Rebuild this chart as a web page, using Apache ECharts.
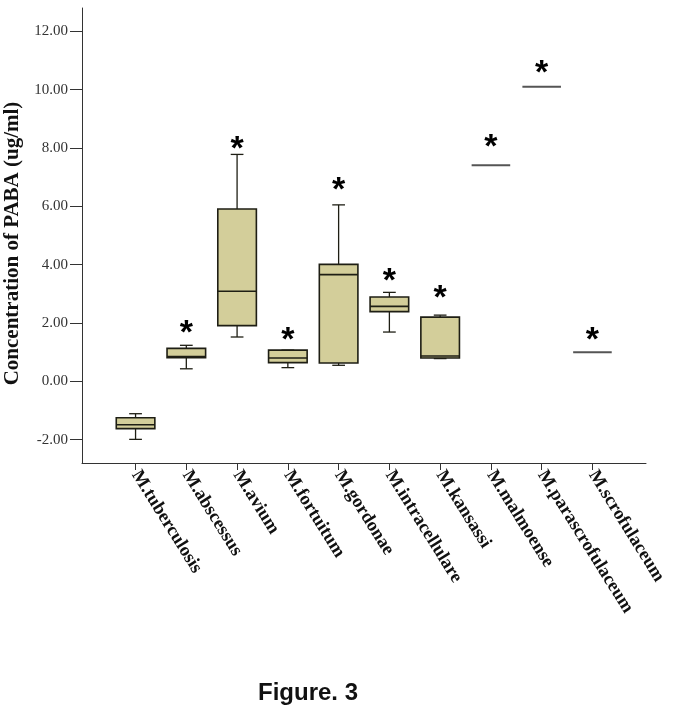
<!DOCTYPE html>
<html>
<head>
<meta charset="utf-8">
<script src="https://cdn.jsdelivr.net/npm/echarts@6/dist/echarts.min.js"></script>
<style>html,body{margin:0;padding:0;background:#fff}#c{width:675px;height:710px}</style>
</head>
<body>
<div id="c"></div>
<script>
const categories = ['M.tuberculosis','M.abscessus','M.avium','M.fortuitum','M.gordonae','M.intracellulare','M.kansassi','M.malmoense','M.parascrofulaceum','M.scrofulaceum'];
const whiskerLow  = [-1.99, 0.43, 1.52, 0.47, 0.55, 1.69, 0.78, 7.41, 10.10, 1.00];
const q1          = [-1.62, 0.81, 1.91, 0.64, 0.63, 2.39, 0.80, 7.41, 10.10, 1.00];
const median      = [-1.49, 0.85, 3.09, 0.80, 3.66, 2.57, 0.87, 7.41, 10.10, 1.00];
const q3          = [-1.25, 1.13, 5.91, 1.07, 4.01, 2.89, 2.20, 7.41, 10.10, 1.00];
const whiskerHigh = [-1.11, 1.235, 7.78, 1.07, 6.05, 3.05, 2.27, 7.41, 10.10, 1.00];
const starAt      = [null, 1.92, 8.21, 1.67, 6.82, 3.67, 3.10, 8.27, 10.81, 1.66];
const yTicks = [-2, 0, 2, 4, 6, 8, 10, 12];
const yAxisName = 'Concentration of PABA (ug/ml)';
const figTitle = 'Figure. 3';

const catIdx = categories.map((_, i) => i);
const data = categories.map((_, i) => [i, whiskerLow[i], q1[i], median[i], q3[i], whiskerHigh[i], starAt[i] == null ? NaN : starAt[i]]);

const chart = echarts.init(document.getElementById('c'), null, {renderer: 'canvas'});
const STAR_FS = 34;
chart.setOption({
  animation: false,
  backgroundColor: '#fff',
  title: {
    text: figTitle, left: 253, top: 676,
    textStyle: {fontFamily: '"Liberation Sans", Arial, sans-serif', fontWeight: 'bold', fontSize: 24, color: '#111'}
  },
  grid: {left: 82, top: 8, right: 29, bottom: 247, containLabel: false, outerBoundsMode: 'none'},
  xAxis: {
    type: 'value', min: -1.055, max: 10.055,
    axisLine: {show: true, onZero: false, lineStyle: {color: '#333', width: 1}},
    axisTick: {show: true, customValues: catIdx, length: 7, lineStyle: {color: '#333'}},
    axisLabel: {
      customValues: catIdx, rotate: -58, margin: 9, hideOverlap: false,
      formatter: v => categories[Math.round(v)] || '',
      fontFamily: '"Liberation Serif", "Times New Roman", serif', fontWeight: 'bold', fontSize: 18.5, color: '#111'
    },
    splitLine: {show: false}
  },
  yAxis: {
    type: 'value', min: -2.8, max: 12.8,
    name: yAxisName, nameLocation: 'middle', nameGap: 58,
    nameTextStyle: {fontFamily: '"Liberation Serif", "Times New Roman", serif', fontWeight: 'bold', fontSize: 21, color: '#111', padding: [0, 0, 0, -16]},
    axisLine: {show: true, onZero: false, lineStyle: {color: '#333', width: 1}},
    axisTick: {show: true, customValues: yTicks, length: 12, lineStyle: {color: '#333'}},
    axisLabel: {
      customValues: yTicks, margin: 14,
      formatter: v => v.toFixed(2),
      fontFamily: '"Liberation Serif", "Times New Roman", serif', fontSize: 15, color: '#333'
    },
    splitLine: {show: false}
  },
  series: [{
    type: 'custom',
    data: data,
    encode: {x: 0, y: [1, 2, 3, 4, 5, 6]},
    renderItem: function (params, api) {
      const i = api.value(0);
      const lo = api.value(1), b1 = api.value(2), md = api.value(3), b3 = api.value(4), hi = api.value(5), st = api.value(6);
      const cx = api.coord([i, md])[0];
      const bw = api.size([0.76, 0])[0];
      const cap = bw * 0.33;
      const y = v => api.coord([i, v])[1];
      const children = [];
      const lineStyle = {stroke: '#1e1e14', lineWidth: 1.3};
      if (hi === lo) {
        children.push({type: 'line', shape: {x1: cx - bw / 2, y1: y(md), x2: cx + bw / 2, y2: y(md)}, style: {stroke: '#555', lineWidth: 2}});
      } else {
        children.push({type: 'line', shape: {x1: cx, y1: y(hi), x2: cx, y2: y(b3)}, style: lineStyle});
        children.push({type: 'line', shape: {x1: cx, y1: y(b1), x2: cx, y2: y(lo)}, style: lineStyle});
        children.push({type: 'line', shape: {x1: cx - cap / 2, y1: y(hi), x2: cx + cap / 2, y2: y(hi)}, style: lineStyle});
        children.push({type: 'line', shape: {x1: cx - cap / 2, y1: y(lo), x2: cx + cap / 2, y2: y(lo)}, style: lineStyle});
        children.push({type: 'rect', shape: {x: cx - bw / 2, y: y(b3), width: bw, height: y(b1) - y(b3)}, style: {fill: '#d3ce9a', stroke: '#1e1e14', lineWidth: 1.6}});
        children.push({type: 'line', shape: {x1: cx - bw / 2, y1: y(md), x2: cx + bw / 2, y2: y(md)}, style: {stroke: '#1e1e14', lineWidth: 1.6}});
      }
      if (!isNaN(st)) {
        children.push({type: 'text', style: {text: '*', x: cx, y: y(st) + STAR_FS * 0.23, align: 'center', verticalAlign: 'middle',
          fontFamily: '"Liberation Sans", Arial, sans-serif', fontWeight: 'bold', fontSize: STAR_FS, fill: '#000'}});
      }
      return {type: 'group', children: children};
    }
  }]
});
</script>
</body>
</html>
